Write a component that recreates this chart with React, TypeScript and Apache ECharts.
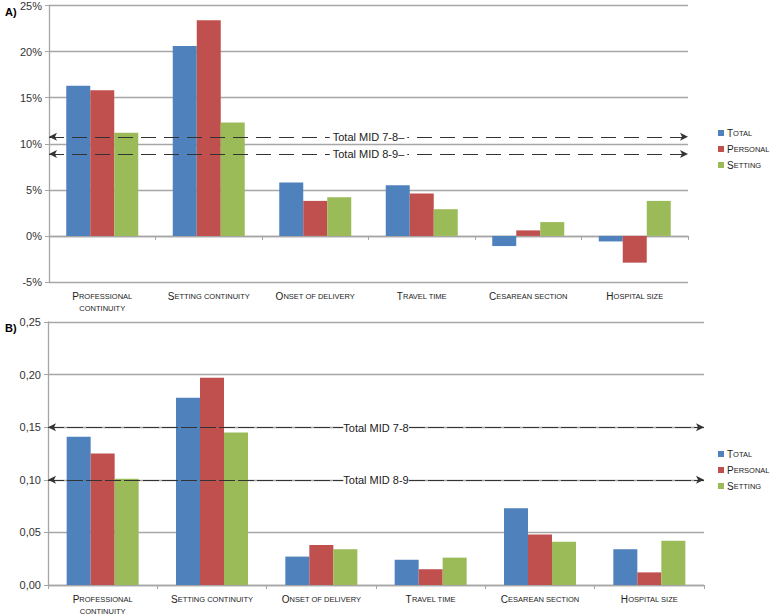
import React, { useEffect, useRef } from "react";
import * as echarts from "echarts";

const categories = [
  "Professional continuity",
  "Setting continuity",
  "Onset of delivery",
  "Travel time",
  "Cesarean section",
  "Hospital size",
];
const seriesNames = ["Total", "Personal", "Setting"];
const totalA = [16.3, 20.6, 5.8, 5.5, -1.1, -0.6];
const personalA = [15.8, 23.4, 3.8, 4.6, 0.6, -2.9];
const settingA = [11.2, 12.3, 4.2, 2.9, 1.5, 3.8];
const totalB = [0.141, 0.178, 0.027, 0.024, 0.073, 0.034];
const personalB = [0.125, 0.197, 0.038, 0.015, 0.048, 0.012];
const settingB = [0.101, 0.145, 0.034, 0.026, 0.041, 0.042];
const midValuesA = [10.75, 8.9];
const midValuesB = [0.15, 0.1];
const midLabelsA = ["Total MID 7-8–", "Total MID 8-9–"];
const midLabelsB = ["Total MID 7-8", "Total MID 8-9"];
const colors = ["#4F81BD", "#C0504D", "#9BBB59"];

const FONT = "Liberation Sans, Arial, sans-serif";

function smallCaps(text: string): string {
  const lines = text.length > 20 ? text.split(" ") : [text];
  return lines
    .map((line, i) => {
      if (i === 0) {
        return `{a|${line[0]}}{b|${line.slice(1).toUpperCase()}}`;
      }
      return `{b|${line.toUpperCase()}}`;
    })
    .join("\n");
}

const richCat = {
  a: { fontSize: 10, color: "#222", fontFamily: FONT, lineHeight: 12 },
  b: { fontSize: 7.5, color: "#222", fontFamily: FONT, lineHeight: 12 },
};

export default function App() {
  const ref = useRef<HTMLDivElement>(null);
  useEffect(() => {
    if (!ref.current) return;
    const chart = echarts.init(ref.current, null, { renderer: "svg" });
    const gridLine = { lineStyle: { color: "#a6a6a6", width: 1.3 } };
    const axisLine = { lineStyle: { color: "#a6a6a6", width: 1.3 } };

    const makeMark = (values: number[], labels: string[], dash: number[], pad: number) => ({
      silent: true,
      symbol: ["arrow", "arrow"],
      symbolSize: [6, 8],
      lineStyle: { color: "#333", width: 1, type: dash },
      label: {
        show: true,
        position: "middle",
        distance: -6,
        fontSize: 11,
        fontFamily: FONT,
        color: "#222",
        backgroundColor: "#fff",
        padding: [0, pad],
      },
      data: values.map((v, i) => ({
        yAxis: v,
        label: { formatter: labels[i] },
      })),
    });

    const bar = (name: string, data: number[], idx: number, color: string, mark?: any) => ({
      name,
      type: "bar",
      xAxisIndex: idx,
      yAxisIndex: idx,
      data,
      barWidth: 24,
      barGap: "0%",
      itemStyle: { color },
      ...(mark ? { markLine: mark } : {}),
    });

    const legend = (top: number) => ({
      orient: "vertical",
      left: 713,
      top,
      itemWidth: 6,
      itemHeight: 6,
      itemGap: 6,
      icon: "rect",
      data: seriesNames,
      formatter: (n: string) => `{a|${n[0]}}{b|${n.slice(1).toUpperCase()}}`,
      textStyle: {
        padding: [0, 0, 0, -2],
        rich: {
          a: { fontSize: 10, color: "#222", fontFamily: FONT, lineHeight: 12 },
          b: { fontSize: 7.5, color: "#222", fontFamily: FONT, lineHeight: 12 },
        },
      },
    });

    chart.setOption({
      animation: false,
      grid: [
        { left: 49, top: 3, width: 639, height: 279 },
        { left: 48, top: 322, width: 656, height: 265 },
      ],
      legend: [legend(123), legend(444)],
      title: [
        { text: "A)", left: 0, top: 1, textStyle: { fontSize: 11, fontWeight: "bold", fontFamily: FONT, color: "#000" } },
        { text: "B)", left: 0, top: 317, textStyle: { fontSize: 11, fontWeight: "bold", fontFamily: FONT, color: "#000" } },
      ],
      xAxis: [0, 1].map((i) => ({
        type: "category",
        gridIndex: i,
        data: categories,
        axisLine: { ...axisLine, onZero: true },
        axisTick: { show: true, length: 4, lineStyle: { color: "#a6a6a6" } },
        axisLabel: {
          margin: 8,
          interval: 0,
          formatter: (v: string) => smallCaps(v),
          rich: richCat,
        },
      })),
      yAxis: [
        {
          type: "value",
          gridIndex: 0,
          min: -5,
          max: 25,
          interval: 5,
          axisLine: { show: true, ...axisLine },
          axisTick: { show: true, length: 4, lineStyle: { color: "#a6a6a6" } },
          splitLine: gridLine,
          axisLabel: { formatter: "{value}%", fontSize: 11, color: "#333", fontFamily: FONT, margin: 7 },
        },
        {
          type: "value",
          gridIndex: 1,
          min: 0,
          max: 0.25,
          interval: 0.05,
          axisLine: { show: true, ...axisLine },
          axisTick: { show: true, length: 4, lineStyle: { color: "#a6a6a6" } },
          splitLine: gridLine,
          axisLabel: {
            formatter: (v: number) => v.toFixed(2).replace(".", ","),
            fontSize: 11,
            color: "#333",
            fontFamily: FONT,
            margin: 7,
          },
        },
      ],
      series: [
        bar("Total", totalA, 0, colors[0], makeMark(midValuesA, midLabelsA, [15, 8], 3)),
        bar("Personal", personalA, 0, colors[1]),
        bar("Setting", settingA, 0, colors[2]),
        bar("Total", totalB, 1, colors[0], makeMark(midValuesB, midLabelsB, [16, 3], 0)),
        bar("Personal", personalB, 1, colors[1]),
        bar("Setting", settingB, 1, colors[2]),
      ],
    });
    return () => chart.dispose();
  }, []);
  return (
    <div
      ref={ref}
      style={{ position: "fixed", left: 0, top: 0, width: 770, height: 615, background: "#fff" }}
    />
  );
}
